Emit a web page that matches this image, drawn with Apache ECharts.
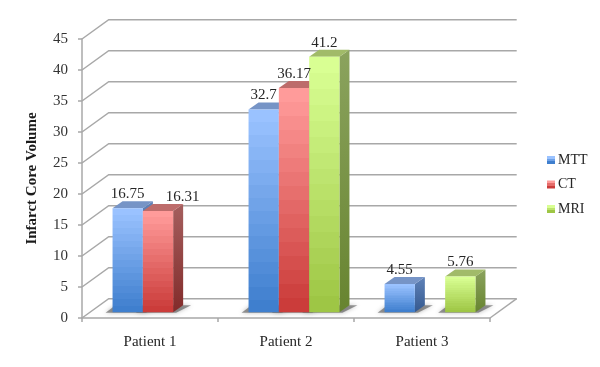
<!DOCTYPE html>
<html>
<head>
<meta charset="utf-8">
<style>html,body{margin:0;padding:0;background:#fff}#c{width:600px;height:367px}</style>
<script src="https://cdn.jsdelivr.net/npm/echarts@6/dist/echarts.min.js"></script>
</head>
<body>
<div id="c"></div>
<script>
const categories = ['Patient 1', 'Patient 2', 'Patient 3'];
const yTicks = [0, 5, 10, 15, 20, 25, 30, 35, 40, 45];
const mtt = [16.75, 32.7, 4.55];
const ct = [16.31, 36.17, null];
const mri = [null, 41.2, 5.76];
const seriesNames = ['MTT', 'CT', 'MRI'];

const FONT = '"Liberation Serif", serif';
const WALL_DX = 26.7, WALL_DY = 19.3;
const BASE_DX = 8, BASE_DY = 5.8;
const BAR_DX = 10, BAR_DY = 7;
const BAR_W = 30.3;
const LINE = '#a8a8a8';

const palette = [
  {faceTop:'#9ac2ff', faceBottom:'#3f7fce', top:'#7694c6', sideTop:'#5f82b8', sideBottom:'#35598f'},
  {faceTop:'#ff9b9a', faceBottom:'#cb3c3a', top:'#bd6c6b', sideTop:'#a55f5e', sideBottom:'#822b2a'},
  {faceTop:'#d9ff93', faceBottom:'#9ec645', top:'#a1bb69', sideTop:'#8ba35e', sideBottom:'#678430'}
];

function hex(c){return [1,3,5].map(i=>parseInt(c.slice(i,i+2),16));}
function bands(a,b,n){
  const A=hex(a),B=hex(b),stops=[];
  for(let i=0;i<n;i++){
    const t=i/(n-1);
    const col='rgb('+A.map((v,k)=>Math.round(v+(B[k]-v)*t)).join(',')+')';
    stops.push({offset:i/n,color:col},{offset:(i+1)/n,color:col});
  }
  return {type:'linear',x:0,y:0,x2:0,y2:1,colorStops:stops};
}
function grad(a,b){return {type:'linear',x:0,y:0,x2:0,y2:1,colorStops:[{offset:0,color:a},{offset:1,color:b}]};}

// Label nudges seen in the reference (series index, category index -> px)
function labelShift(s,c){return (s===1&&c===0)?24.5:0;}

function wallItem(params, api){
  const cs=params.coordSys, v=api.value(1);
  const p=api.coord([0,v]);
  const x0=cs.x, x1=cs.x+cs.width, y=p[1];
  const children=[{
    type:'polyline', z2:-2, silent:true,
    shape:{points:[[x0,y],[x0+WALL_DX,y-WALL_DY],[x1+WALL_DX,y-WALL_DY]]},
    style:{stroke:LINE,lineWidth:1.5,fill:null}
  }];
  if(v===yTicks[0]){
    children.push({type:'line',z2:-2,silent:true,
      shape:{x1:x1,y1:y,x2:x1+WALL_DX,y2:y-WALL_DY},
      style:{stroke:LINE,lineWidth:1.5}});
  }
  return {type:'group',children};
}

function barRenderer(si){
  const pal=palette[si];
  return function(params, api){
    const c=api.value(0), v=api.value(1);
    if(v==null||isNaN(v)) return null;
    const top=api.coord([c,v]), bottom=api.coord([c,0]);
    const cx=top[0]+BASE_DX+(si-1)*BAR_W;
    const x0=cx-BAR_W/2, x1=cx+BAR_W/2;
    const yt=top[1]-BASE_DY, yb=bottom[1]-BASE_DY;
    return {type:'group',children:[
      {type:'polygon',z2:-1,silent:true,
        shape:{points:[[x0-7,yb+0.5],[x0+3,yb-BAR_DY],[x1+BAR_DX+8,yb-BAR_DY],[x1+3,yb+0.5]]},
        style:{fill:'rgba(95,95,95,0.65)',shadowBlur:4,shadowColor:'rgba(110,110,110,0.7)'}},
      {type:'polygon',silent:true,
        shape:{points:[[x1,yt],[x1+BAR_DX,yt-BAR_DY],[x1+BAR_DX,yb-BAR_DY],[x1,yb]]},
        style:{fill:grad(pal.sideTop,pal.sideBottom)}},
      {type:'polygon',silent:true,
        shape:{points:[[x0,yt],[x0+BAR_DX,yt-BAR_DY],[x1+BAR_DX,yt-BAR_DY],[x1,yt]]},
        style:{fill:pal.top}},
      {type:'rect',silent:true,
        shape:{x:x0,y:yt,width:BAR_W,height:yb-yt},
        style:{fill:bands(pal.faceTop,pal.faceBottom,16)}},
      {type:'text',z2:100,silent:true,
        style:{x:cx+labelShift(si,c),y:yt-14,text:String(v),align:'center',verticalAlign:'middle',
          fontFamily:FONT,fontSize:15,fill:'#262626'}}
    ]};
  };
}

const barData=[mtt,ct,mri];
const chart=echarts.init(document.getElementById('c'),null,{renderer:'canvas'});
chart.setOption({
  animation:false,
  backgroundColor:'#fff',
  grid:{left:82,top:39,width:408,height:279,containLabel:false},
  xAxis:{type:'category',data:categories,
    axisLine:{lineStyle:{color:LINE,width:1.5}},
    axisTick:{show:true,length:4,lineStyle:{color:LINE,width:1.5}},
    splitLine:{show:false},
    axisLabel:{fontFamily:FONT,fontSize:15,color:'#262626',margin:17}},
  yAxis:{type:'value',min:0,max:45,interval:5,
    name:'Infarct Core Volume',nameLocation:'middle',nameGap:42,nameRotate:90,
    nameTextStyle:{fontFamily:FONT,fontSize:15,fontWeight:'bold',color:'#1a1a1a'},
    axisLine:{show:true,lineStyle:{color:LINE,width:1.5}},
    axisTick:{show:true,length:4,lineStyle:{color:LINE,width:1.5}},
    splitLine:{show:false},
    axisLabel:{fontFamily:FONT,fontSize:15,color:'#333333',margin:14}},
  legend:{orient:'vertical',left:542,top:148,itemWidth:8,itemHeight:8,itemGap:10.5,
    data:seriesNames,icon:'rect',
    textStyle:{fontFamily:FONT,fontSize:14,color:'#262626',padding:[0,0,0,-2]}},
  series:[
    {type:'custom',name:'walls',coordinateSystem:'cartesian2d',clip:false,silent:true,
      renderItem:wallItem,encode:{x:0,y:1},data:yTicks.map(v=>[0,v])}
  ].concat(seriesNames.map((name,si)=>({
    type:'custom',name,coordinateSystem:'cartesian2d',clip:false,silent:true,
    renderItem:barRenderer(si),encode:{x:0,y:1},
    itemStyle:{color:bands(palette[si].faceTop,palette[si].faceBottom,3)},
    data:barData[si].map((v,i)=>[i,v])
  })))
});
</script>
</body>
</html>
